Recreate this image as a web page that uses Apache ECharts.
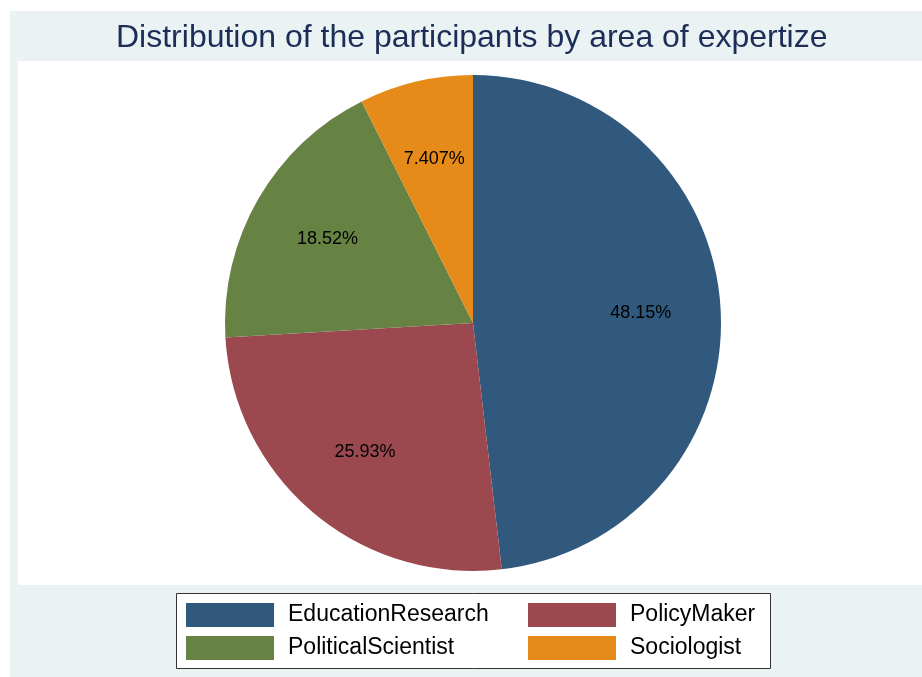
<!DOCTYPE html>
<html>
<head>
<meta charset="utf-8">
<script src="https://cdn.jsdelivr.net/npm/echarts@6/dist/echarts.min.js"></script>
<style>
    html, body { margin: 0; padding: 0; background: #fff; }
    #pieChart { width: 922px; height: 677px; }
</style>
</head>
<body>
<div id="pieChart"></div>
<script>
    // participants by area of expertise (counts, N = 27)
    var categories = ['EducationResearch', 'PolicyMaker', 'PoliticalScientist', 'Sociologist'];
    var counts = [13, 7, 5, 2];
    var colors = ['#31597d', '#9b494f', '#668344', '#e68b1a'];
    var legendCol1 = ['EducationResearch', 'PoliticalScientist'];
    var legendCol2 = ['PolicyMaker', 'Sociologist'];

    var total = counts.reduce(function (a, b) { return a + b; }, 0);

    var pieData = categories.map(function (name, i) {
        return { name: name, value: counts[i], itemStyle: { color: colors[i] } };
    });
    // same slices, transparent, only used to place the labels further out
    var labelData = categories.map(function (name, i) {
        return { name: name, value: counts[i] };
    });

    var font = '"Liberation Sans", Arial, sans-serif';

    var legendBase = {
        orient: 'vertical',
        top: 603,
        padding: 0,
        itemWidth: 88,
        itemHeight: 24,
        itemGap: 9,
        icon: 'rect',
        selectedMode: false,
        itemStyle: { borderWidth: 0 },
        textStyle: { fontSize: 23, color: '#000', fontFamily: font, padding: [0, 0, 0, 9] }
    };

    var pieChart = echarts.init(document.getElementById('pieChart'));
    pieChart.setOption({
        backgroundColor: '#fff',
        animation: false,
        title: {
            text: 'Distribution of the participants by area of expertize',
            left: 116,
            top: 22,
            padding: 0,
            textStyle: { fontSize: 32, fontWeight: 'normal', color: '#1c2e58', fontFamily: font }
        },
        graphic: [
            { type: 'rect', shape: { x: 10, y: 11, width: 912, height: 666 }, style: { fill: '#eaf2f3' }, silent: true },
            { type: 'rect', shape: { x: 18, y: 61, width: 904, height: 524 }, style: { fill: '#fff' }, silent: true },
            { type: 'rect', shape: { x: 176.5, y: 593.5, width: 594, height: 75 }, style: { fill: '#fff', stroke: '#333', lineWidth: 1 }, silent: true }
        ],
        legend: [
            Object.assign({}, legendBase, { left: 186, data: legendCol1 }),
            Object.assign({}, legendBase, { left: 528, data: legendCol2 })
        ],
        series: [
            {
                name: 'expertise',
                type: 'pie',
                center: [473, 323],
                radius: [0, 248],
                startAngle: 90,
                clockwise: true,
                silent: true,
                label: { show: false },
                labelLine: { show: false },
                itemStyle: { borderWidth: 0 },
                data: pieData
            },
            {
                name: 'labels',
                type: 'pie',
                center: [473, 323],
                radius: [0, 330],
                startAngle: 90,
                clockwise: true,
                silent: true,
                z: 3,
                itemStyle: { color: 'transparent', borderWidth: 0 },
                label: {
                    show: true,
                    position: 'inside',
                    fontSize: 18,
                    color: '#000',
                    fontFamily: font,
                    formatter: function (p) {
                        return (p.value / total * 100).toPrecision(4) + '%';
                    }
                },
                labelLine: { show: false },
                data: labelData
            }
        ]
    });
</script>
</body>
</html>
